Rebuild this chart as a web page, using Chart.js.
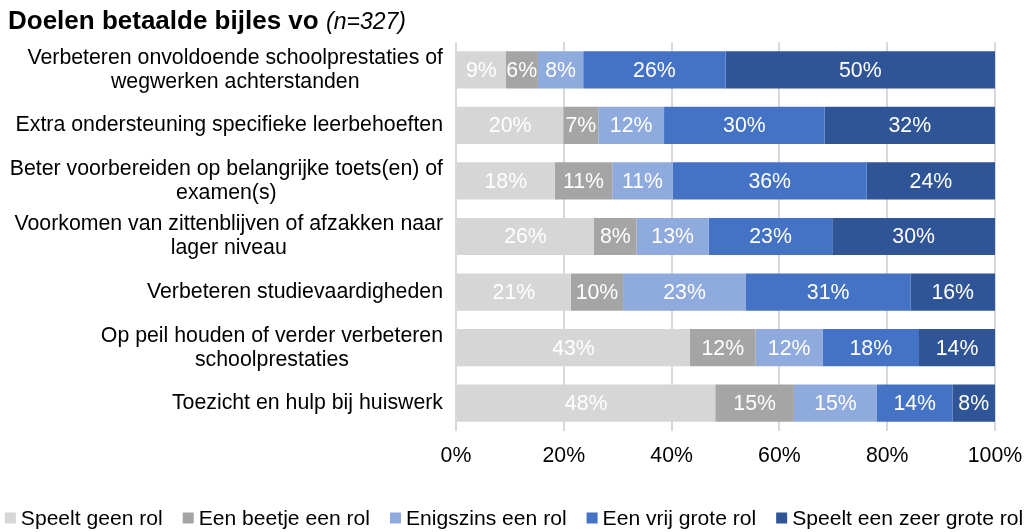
<!DOCTYPE html>
<html>
<head>
<meta charset="utf-8">
<script src="https://cdn.jsdelivr.net/npm/chart.js@4.4.1/dist/chart.umd.min.js"></script>
<style>
  html, body { margin: 0; padding: 0; background: #fff; }
  #wrap { position: relative; width: 1028px; height: 532px; }
  #title { position: absolute; left: 8px; top: 5px; font-family: "Liberation Sans", Arial, sans-serif; color: #000; white-space: nowrap; }
  #title b { font-size: 26px; font-weight: bold; }
  #title i { font-size: 23px; font-style: italic; margin-left: 3px; }
</style>
</head>
<body>
<div id="wrap">
  <canvas id="c" width="1028" height="532"></canvas>
  <div id="title"><b>Doelen betaalde bijles vo</b> <i>(n=327)</i></div>
</div>
<script>
// ---- data ----
const categories = [
  ["Verbeteren onvoldoende schoolprestaties of", "wegwerken achterstanden"],
  ["Extra ondersteuning specifieke leerbehoeften"],
  ["Beter voorbereiden op belangrijke toets(en) of", "examen(s)"],
  ["Voorkomen van zittenblijven of afzakken naar", "lager niveau"],
  ["Verbeteren studievaardigheden"],
  ["Op peil houden of verder verbeteren", "schoolprestaties"],
  ["Toezicht en hulp bij huiswerk"]
];
const seriesNames = ["Speelt geen rol", "Een beetje een rol", "Enigszins een rol", "Een vrij grote rol", "Speelt een zeer grote rol"];
const speeltGeenRol       = [9.2, 19.9, 18.3, 25.6, 21.3, 43.4, 48.1];
const eenBeetjeEenRol     = [6.0, 6.5, 10.7, 7.9, 9.7, 12.2, 14.6];
const enigszinsEenRol     = [8.4, 12.2, 11.2, 13.4, 22.8, 12.4, 15.4];
const eenVrijGroteRol     = [26.4, 29.8, 36.0, 22.9, 30.5, 17.9, 14.0];
const speeltZeerGroteRol  = [50.0, 31.6, 23.8, 30.2, 15.7, 14.1, 7.9];
const xTicks = [0, 20, 40, 60, 80, 100];

const colors = ["#D6D6D6", "#A5A5A5", "#8FAADC", "#4472C4", "#2F5597"];
const FONT = '"Liberation Sans", Arial, sans-serif';
const FS = 21.3;
const seriesData = [speeltGeenRol, eenBeetjeEenRol, enigszinsEenRol, eenVrijGroteRol, speeltZeerGroteRol];

const datasets = seriesNames.map((n, i) => ({
  label: n,
  data: seriesData[i],
  backgroundColor: colors[i],
  borderWidth: 0,
  categoryPercentage: 1,
  barPercentage: 0.67
}));

const yLabelPlugin = {
  id: 'yLabels',
  afterDraw(chart) {
    const ctx = chart.ctx, ys = chart.scales.y;
    const right = ys.right - 13, lineH = 24;
    ctx.save();
    ctx.font = FS + 'px ' + FONT;
    ctx.fillStyle = '#000';
    ctx.textBaseline = 'middle';
    ctx.textAlign = 'center';
    categories.forEach((lines, i) => {
      const yc = ys.getPixelForValue(i);
      const maxW = Math.max(...lines.map(l => ctx.measureText(l).width));
      const cx = right - maxW / 2;
      lines.forEach((l, j) => ctx.fillText(l, cx, yc + (j - (lines.length - 1) / 2) * lineH));
    });
    ctx.restore();
  }
};

const valueLabelPlugin = {
  id: 'valueLabels',
  afterDatasetsDraw(chart) {
    const ctx = chart.ctx;
    ctx.save();
    ctx.font = FS + 'px ' + FONT;
    ctx.fillStyle = '#fff';
    ctx.textAlign = 'center';
    ctx.textBaseline = 'middle';
    chart.data.datasets.forEach((ds, di) => {
      const meta = chart.getDatasetMeta(di);
      meta.data.forEach((el, i) => {
        const p = el.getProps(['x', 'base', 'y'], true);
        ctx.fillText(Math.round(ds.data[i]) + '%', (p.x + p.base) / 2, p.y + 1);
      });
    });
    ctx.restore();
  }
};

const legendPlugin = {
  id: 'customLegend',
  afterDraw(chart) {
    const ctx = chart.ctx;
    const box = 11, textGap = 16, itemGap = 20, yc = 518;
    ctx.save();
    ctx.font = '21.1px ' + FONT;
    const widths = seriesNames.map(n => ctx.measureText(n).width);
    const total = widths.reduce((a, w) => a + textGap + w, 0) + itemGap * (seriesNames.length - 1);
    let x = (chart.width - total) / 2;
    ctx.textBaseline = 'middle';
    ctx.textAlign = 'left';
    seriesNames.forEach((n, i) => {
      ctx.fillStyle = colors[i];
      ctx.fillRect(x, yc - box / 2, box, box);
      ctx.fillStyle = '#000';
      ctx.fillText(n, x + textGap, yc + 1);
      x += textGap + widths[i] + itemGap;
    });
    ctx.restore();
  }
};

new Chart(document.getElementById('c'), {
  type: 'bar',
  data: { labels: categories.map(l => l.join(' ')), datasets },
  options: {
    responsive: false,
    animation: false,
    indexAxis: 'y',
    layout: { padding: { left: 0, right: 33, top: 42, bottom: 51 } },
    plugins: { legend: { display: false }, tooltip: { enabled: false }, title: { display: false } },
    scales: {
      x: {
        stacked: true, min: 0, max: 100,
        afterBuildTicks: s => { s.ticks = xTicks.map(v => ({ value: v })); },
        ticks: { callback: v => v + '%', font: { family: FONT, size: FS }, color: '#000', padding: 12, maxRotation: 0 },
        grid: { color: '#D9D9D9', lineWidth: 2, drawTicks: false },
        border: { display: false },
        afterFit: s => { s.height = 50; s.paddingLeft = 0; s.paddingRight = 0; }
      },
      y: {
        stacked: true,
        ticks: { display: false },
        grid: { display: false },
        border: { display: false },
        afterFit: s => { s.width = 456; s.paddingTop = 0; s.paddingBottom = 0; }
      }
    }
  },
  plugins: [yLabelPlugin, valueLabelPlugin, legendPlugin]
});
</script>
</body>
</html>
